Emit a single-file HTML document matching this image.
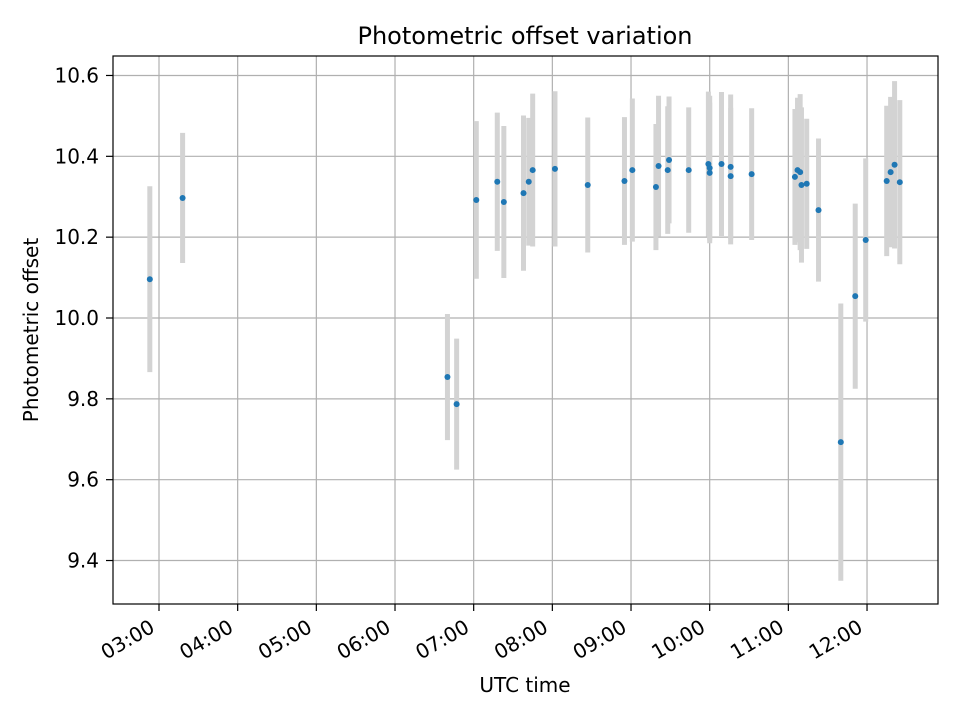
<!DOCTYPE html>
<html><head><meta charset="utf-8"><style>
body{margin:0;background:#fff;}
svg{display:block;font-family:"DejaVu Sans","Liberation Sans",sans-serif;}
</style></head><body>
<svg id="chart" width="960" height="720" viewBox="0 0 960 720">
<rect width="960" height="720" fill="#fff"/>
<g id="grid"></g>
<g id="errs"></g>
<g id="pts"></g>
<rect x="113" y="56" width="825" height="548" fill="none" stroke="#000" stroke-width="1.2"/>
<g id="axes"></g>
<text x="525" y="44" text-anchor="middle" font-size="24" fill="#000">Photometric offset variation</text>
<text x="525" y="692" text-anchor="middle" font-size="20" fill="#000">UTC time</text>
<text transform="translate(38,330) rotate(-90)" text-anchor="middle" font-size="20" fill="#000">Photometric offset</text>
</svg>
<script>
const times=["02:53","03:18","06:40","06:47","07:02","07:18","07:23","07:38","07:42","07:45","08:02","08:27","08:55","09:01","09:19","09:21","09:28","09:29","09:44","09:59","10:00","10:00","10:09","10:16","10:16","10:32","11:05","11:07","11:09","11:10","11:14","11:23","11:40","11:51","11:59","12:15","12:18","12:21","12:25"];
const offsets=[10.096,10.297,9.854,9.787,10.292,10.337,10.287,10.309,10.337,10.366,10.369,10.329,10.339,10.366,10.324,10.376,10.366,10.391,10.366,10.381,10.371,10.359,10.381,10.374,10.351,10.356,10.349,10.366,10.361,10.329,10.332,10.267,9.693,10.054,10.193,10.339,10.361,10.379,10.336];
const errors=[0.230,0.161,0.156,0.162,0.195,0.171,0.188,0.192,0.158,0.189,0.192,0.167,0.158,0.177,0.156,0.174,0.158,0.157,0.155,0.179,0.179,0.174,0.178,0.179,0.169,0.163,0.168,0.179,0.193,0.192,0.161,0.177,0.343,0.229,0.202,0.186,0.186,0.207,0.203];
const yTicks=[9.4,9.6,9.8,10.0,10.2,10.4,10.6];
const xTicks=["03:00","04:00","05:00","06:00","07:00","08:00","09:00","10:00","11:00","12:00"];
const NS="http://www.w3.org/2000/svg";
function hrs(s){const p=s.split(":");return +p[0]+(+p[1])/60;}
function X(h){return 159+(h-3)*78.67;}
function Y(v){return 318-(v-10)*404.2;}
function mk(tag,attrs,parent){const e=document.createElementNS(NS,tag);for(const k in attrs)e.setAttribute(k,attrs[k]);parent.appendChild(e);return e;}
const grid=document.getElementById('grid'),axes=document.getElementById('axes'),errs=document.getElementById('errs'),pts=document.getElementById('pts');
yTicks.forEach(t=>{const y=Y(t);
 const g=mk('line',{x1:113,x2:938,y1:y,y2:y,stroke:'#b0b0b0','stroke-width':1.2},grid);
 
 
 mk('line',{x1:106,x2:113,y1:y,y2:y,stroke:'#000','stroke-width':1.2},axes);
 const tx=mk('text',{x:99,y:y+7,'text-anchor':'end','font-size':20,fill:'#000'},axes);
 tx.textContent=t.toFixed(1);
 
 
});
xTicks.forEach(t=>{const x=X(hrs(t));
 const g=mk('line',{x1:x,x2:x,y1:56,y2:604,stroke:'#b0b0b0','stroke-width':1.2},grid);
 
 
 mk('line',{x1:x,x2:x,y1:604,y2:611,stroke:'#000','stroke-width':1.2},axes);
 const tx=mk('text',{transform:`translate(${x-3},${631}) rotate(-30)`,'text-anchor':'end','font-size':20,fill:'#000'},axes);
 tx.textContent=t;
 
 
});
times.forEach((t,i)=>{const x=X(hrs(t));
 const e=mk('line',{x1:x,x2:x,y1:Y(offsets[i]+errors[i]),y2:Y(offsets[i]-errors[i]),stroke:'#d3d3d3','stroke-width':5},errs);
 
 
});
times.forEach((t,i)=>{
 const c=mk('circle',{cx:X(hrs(t)),cy:Y(offsets[i]),r:3,fill:'#1f77b4'},pts);
 
 
});
</script>
</body></html>
